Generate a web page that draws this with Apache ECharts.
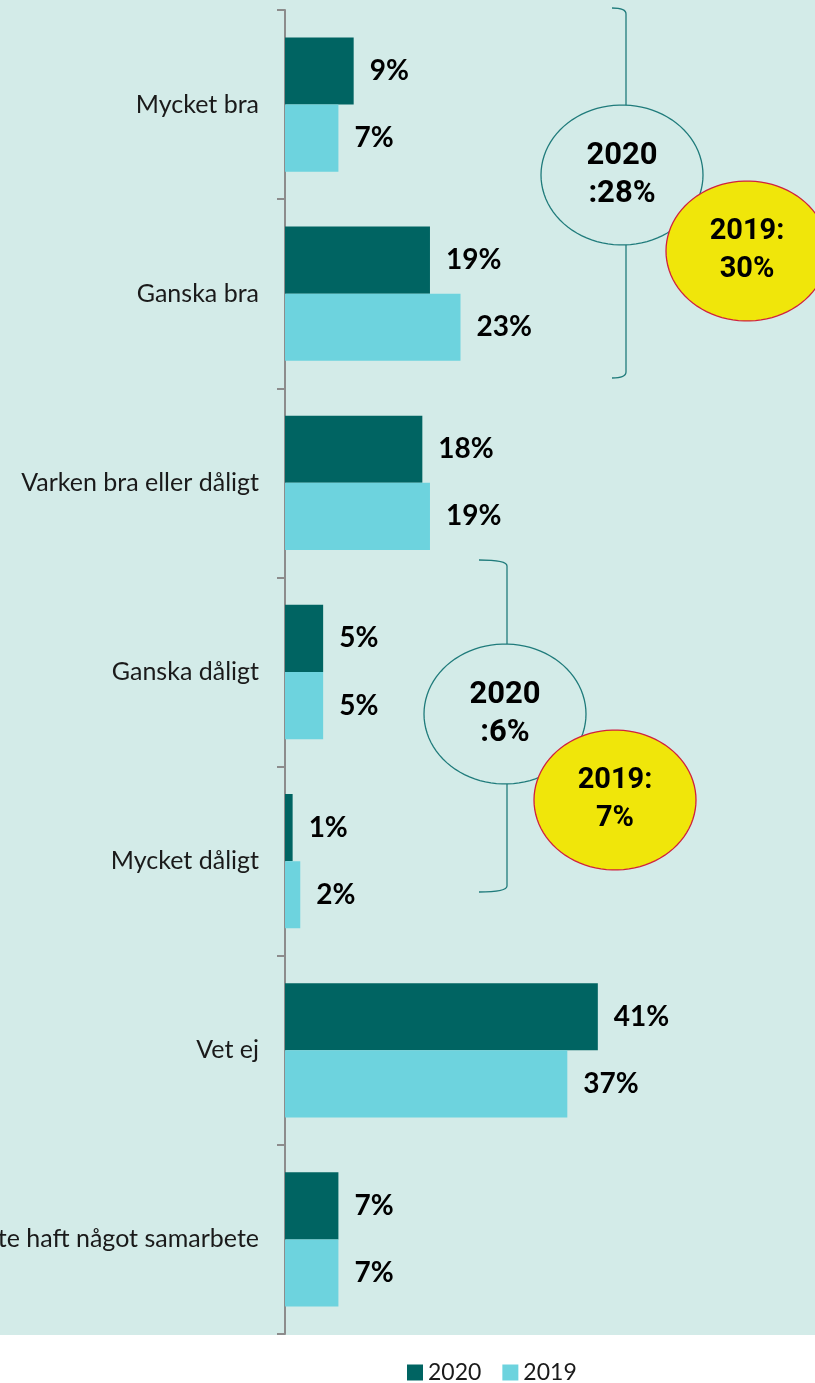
<!DOCTYPE html>
<html>
<head>
<meta charset="utf-8">
<script src="https://cdn.jsdelivr.net/npm/echarts@6/dist/echarts.min.js"></script>
<style>
    html, body { margin: 0; padding: 0; background: #fff; }
    #chart { width: 815px; height: 1383px; }
</style>
</head>
<body>
<div id="chart"></div>
<script>
const categories = ['Mycket bra', 'Ganska bra', 'Varken bra eller dåligt', 'Ganska dåligt', 'Mycket dåligt', 'Vet ej', 'Har inte haft något samarbete']
const values2020 = [9, 19, 18, 5, 1, 41, 7]
const values2019 = [7, 23, 19, 5, 2, 37, 7]
const legendNames = ['2020', '2019']

const bg = '#d3ebe8'
const font = 'Lato, "Open Sans", sans-serif'
const bubbleFont = 'Roboto, "Liberation Sans", sans-serif'
const braceColor = '#1f7b7b'

// brace: vertical line with two small curled hooks to the left
function brace(x, hookX, top, bottom) {
    const style = { stroke: braceColor, lineWidth: 1.3, fill: null }
    return [
        { type: 'line', z: 10, shape: { x1: x, y1: top + 4, x2: x, y2: bottom - 4 }, style: style },
        { type: 'bezierCurve', z: 10, shape: { x1: hookX, y1: top - 2, cpx1: x, cpy1: top - 2, x2: x, y2: top + 4 }, style: style },
        { type: 'bezierCurve', z: 10, shape: { x1: hookX, y1: bottom + 2, cpx1: x, cpy1: bottom + 2, x2: x, y2: bottom - 4 }, style: style }
    ]
}

function ellipsePoints(cx, cy, rx, ry) {
    const pts = []
    for (let i = 0; i < 90; i++) {
        const a = i / 90 * Math.PI * 2
        pts.push([cx + rx * Math.cos(a), cy + ry * Math.sin(a)])
    }
    return pts
}

function bubble(cx, cy, fill, stroke, lines, size, z) {
    return [
        {
            type: 'polygon',
            z: z,
            shape: { points: ellipsePoints(cx, cy, 81, 70) },
            style: { fill: fill, stroke: stroke, lineWidth: 1.3 }
        },
        {
            type: 'text',
            z: z + 1,
            x: cx,
            y: cy,
            style: {
                text: lines,
                fill: '#000',
                font: 'bold ' + size + 'px ' + bubbleFont,
                lineHeight: 38,
                align: 'center',
                verticalAlign: 'middle'
            }
        }
    ]
}

const valueLabel = {
    show: true,
    position: 'right',
    distance: 16,
    formatter: '{c}%',
    fontSize: 28,
    fontWeight: 'bold',
    color: '#000'
}

const chart = echarts.init(document.getElementById('chart'))
chart.setOption({
    backgroundColor: '#fff',
    animation: false,
    textStyle: { fontFamily: font },
    grid: {
        left: 285,
        top: 10,
        height: 1324,
        width: 381.5,
        outerBoundsMode: 'none',
        containLabel: false
    },
    legend: {
        data: legendNames,
        left: 402,
        top: 1356,
        icon: 'rect',
        itemWidth: 16,
        itemHeight: 16,
        itemGap: 21,
        textStyle: { fontSize: 23, color: '#1a1a1a' }
    },
    xAxis: {
        type: 'value',
        min: 0,
        max: 50,
        show: false
    },
    yAxis: {
        type: 'category',
        inverse: true,
        data: categories,
        axisLine: { show: true, lineStyle: { color: '#8c8c8c', width: 2 } },
        axisTick: { show: true, length: 8, lineStyle: { color: '#8c8c8c', width: 2 } },
        axisLabel: { fontSize: 25, color: '#1a1a1a', margin: 26, fontFamily: font }
    },
    series: [
        {
            name: legendNames[0],
            type: 'bar',
            data: values2020,
            color: '#006462',
            barGap: '0%',
            barCategoryGap: '29%',
            label: valueLabel
        },
        {
            name: legendNames[1],
            type: 'bar',
            data: values2019,
            color: '#6dd3de',
            barGap: '0%',
            barCategoryGap: '29%',
            label: valueLabel
        }
    ],
    graphic: [
        {
            type: 'rect',
            z: -100,
            shape: { x: 0, y: 0, width: 815, height: 1335 },
            style: { fill: bg }
        }
    ].concat(
        brace(626, 612, 10, 376),
        brace(507, 479, 562, 890),
        bubble(622, 175, bg, braceColor, '2020\n:28%', 31, 20),
        bubble(747, 251, '#f0e60a', '#d0213f', '2019:\n30%', 29, 30),
        bubble(505, 714, bg, braceColor, '2020\n:6%', 31, 20),
        bubble(615, 800, '#f0e60a', '#d0213f', '2019:\n7%', 29, 30)
    )
})
</script>
</body>
</html>
